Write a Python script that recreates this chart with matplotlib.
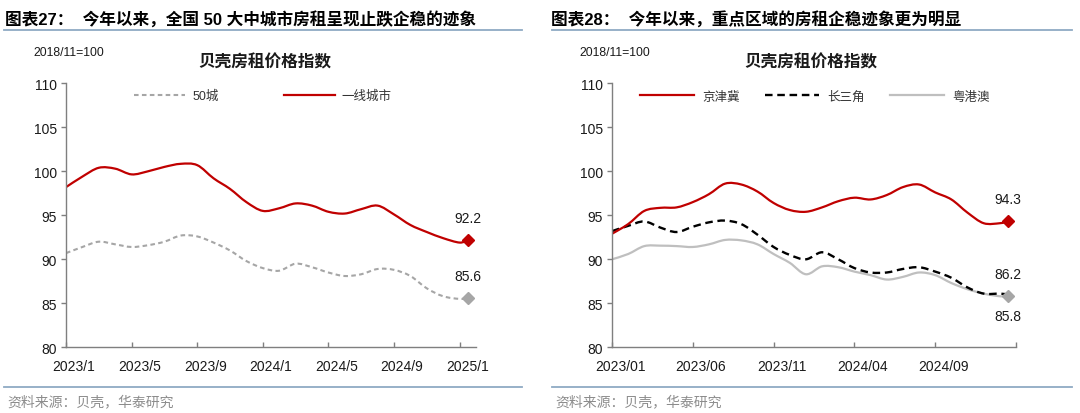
import matplotlib
matplotlib.use('Agg')
import matplotlib.pyplot as plt
import numpy as np
from matplotlib.path import Path
from matplotlib.patches import PathPatch
from matplotlib.lines import Line2D
from matplotlib.transforms import ScaledTranslation

plt.rcParams['font.family'] = ['Liberation Sans', 'Noto Sans CJK SC', 'DejaVu Sans']

# months since 2023/1 (last reading is mid-January 2025)
month_pos = list(range(25)) + [24.5]

# chart 27
city50 = [90.7, 91.4, 92.0, 91.7, 91.4, 91.6, 92.0, 92.7, 92.6, 91.9, 91.0, 89.8, 89.0,
          88.7, 89.5, 89.1, 88.5, 88.1, 88.3, 88.9, 88.8, 88.1, 86.7, 85.8, 85.5, 85.6]
tier1 = [98.2, 99.4, 100.4, 100.3, 99.65, 100.0, 100.5, 100.85, 100.7, 99.2, 98.0, 96.5, 95.5,
         95.8, 96.35, 96.1, 95.4, 95.2, 95.7, 96.1, 95.1, 93.9, 93.1, 92.4, 91.9, 92.2]
ticks27 = [0, 4, 8, 12, 16, 20, 24]
labels27 = ['2023/1', '2023/5', '2023/9', '2024/1', '2024/5', '2024/9', '2025/1']

# chart 28
jjj = [92.9, 94.0, 95.5, 95.85, 95.9, 96.5, 97.4, 98.6, 98.5, 97.7, 96.4, 95.6, 95.4,
       95.9, 96.6, 97.0, 96.8, 97.3, 98.2, 98.5, 97.6, 96.8, 95.3, 94.1, 94.1, 94.3]
csj = [93.2, 93.8, 94.3, 93.6, 93.1, 93.7, 94.2, 94.4, 94.0, 92.8, 91.4, 90.5, 90.0,
       90.8, 90.0, 89.0, 88.5, 88.5, 88.9, 89.1, 88.6, 87.9, 86.8, 86.1, 86.1, 86.0]
gba = [90.0, 90.6, 91.5, 91.55, 91.5, 91.4, 91.7, 92.2, 92.15, 91.7, 90.6, 89.6, 88.3,
       89.2, 89.1, 88.6, 88.2, 87.7, 88.0, 88.5, 88.2, 87.3, 86.6, 86.1, 85.8, 85.8]
ticks28 = [0, 5, 10, 15, 20, 25]
labels28 = ['2023/01', '2023/06', '2023/11', '2024/04', '2024/09', '']

W, H = 1080, 414
RED = '#C00000'
GREY = '#A6A6A6'
LGREY = '#BFBFBF'
RULE = '#8FAAC4'
CJK = ['Noto Sans CJK SC', 'DejaVu Sans']


def fx(px):
    return px / W


def fy(py):
    return 1 - py / H


def smooth(ax, x, y, **kw):
    # excel style smoothed line (catmull-rom as bezier)
    pts = np.column_stack([x, y]).astype(float)
    n = len(pts)
    verts = [pts[0]]
    codes = [Path.MOVETO]
    for i in range(n - 1):
        p0 = pts[i - 1] if i > 0 else pts[i]
        p3 = pts[i + 2] if i + 2 < n else pts[i + 1]
        c1 = pts[i] + (pts[i + 1] - p0) / 6
        c2 = pts[i + 1] - (p3 - pts[i]) / 6
        verts += [c1, c2, pts[i + 1]]
        codes += [Path.CURVE4] * 3
    ax.add_patch(PathPatch(Path(verts, codes), fill=False, capstyle='butt', **kw))


def style_axes(ax, ticks, labels):
    ax.set_xlim(0, 25)
    ax.set_ylim(80, 110)
    ax.set_yticks(range(80, 111, 5))
    ax.set_xticks(ticks)
    ax.set_xticklabels(labels)
    for s in ['top', 'right']:
        ax.spines[s].set_visible(False)
    for s in ['left', 'bottom']:
        ax.spines[s].set_color('#7F7F7F')
        ax.spines[s].set_linewidth(1)
    ax.tick_params(axis='y', direction='out', length=3.5, width=1, color='#7F7F7F',
                   labelsize=10, pad=3, labelcolor='#1A1A1A')
    ax.tick_params(axis='x', direction='in', length=3.5, width=1, color='#7F7F7F',
                   labelsize=10, pad=8.5, labelcolor='#1A1A1A')
    off = ScaledTranslation(8 / 100, 0, ax.figure.dpi_scale_trans)
    for lab in ax.get_xticklabels():
        lab.set_transform(lab.get_transform() + off)


fig = plt.figure(figsize=(10.8, 4.14), dpi=100)

ax1 = fig.add_axes([fx(66), fy(348.3), fx(476) - fx(66), fy(84.3) - fy(348.3)])
ax2 = fig.add_axes([fx(612), fy(348.3), fx(1016) - fx(612), fy(84.3) - fy(348.3)])
style_axes(ax1, ticks27, labels27)
style_axes(ax2, ticks28, labels28)

# chart 27 lines
smooth(ax1, month_pos, city50, edgecolor=GREY, linewidth=1.5, linestyle=(0, (2.2, 1.6)))
smooth(ax1, month_pos, tier1, edgecolor=RED, linewidth=1.6)
ax1.plot(month_pos[-1], tier1[-1], 'D', color=RED, markersize=6)
ax1.plot(month_pos[-1], city50[-1], 'D', color=GREY, markersize=6)
ax1.annotate('%.1f' % tier1[-1], (month_pos[-1], tier1[-1]), xytext=(0, 16),
             textcoords='offset points', ha='center', va='center', fontsize=10, color='#1A1A1A')
ax1.annotate('%.1f' % city50[-1], (month_pos[-1], city50[-1]), xytext=(0, 16),
             textcoords='offset points', ha='center', va='center', fontsize=10, color='#1A1A1A')

# chart 28 lines
smooth(ax2, month_pos, gba, edgecolor=LGREY, linewidth=1.6)
smooth(ax2, month_pos, csj, edgecolor='black', linewidth=1.7, linestyle=(0, (3.2, 2.0)))
smooth(ax2, month_pos, jjj, edgecolor=RED, linewidth=1.6)
ax2.plot(month_pos[-1], jjj[-1], 'D', color=RED, markersize=6)
ax2.plot(month_pos[-1], gba[-1], 'D', color=GREY, markersize=6)
ax2.annotate('%.1f' % jjj[-1], (month_pos[-1], jjj[-1]), xytext=(0, 16),
             textcoords='offset points', ha='center', va='center', fontsize=10, color='#1A1A1A')
ax2.annotate('86.2', (month_pos[-1], gba[-1]), xytext=(0, 16),
             textcoords='offset points', ha='center', va='center', fontsize=10, color='#1A1A1A')
ax2.annotate('%.1f' % gba[-1], (month_pos[-1], gba[-1]), xytext=(0, -14),
             textcoords='offset points', ha='center', va='center', fontsize=10, color='#1A1A1A')

# legends
h50 = Line2D([], [], color=GREY, linewidth=1.5, linestyle=(0, (2.2, 1.6)))
h1 = Line2D([], [], color=RED, linewidth=1.6)
fig.legend([h50, h1], ['50城', '一线城市'], ncol=2, loc='center left',
           bbox_to_anchor=(fx(134), fy(97)), bbox_transform=fig.transFigure,
           frameon=False, borderpad=0, borderaxespad=0, handlelength=4.1,
           handletextpad=0.55, columnspacing=5.2, prop={'size': 9, 'family': ['Liberation Sans', 'Noto Sans CJK SC']},
           labelcolor='#333333')
hj = Line2D([], [], color=RED, linewidth=1.6)
hc = Line2D([], [], color='black', linewidth=1.7, linestyle=(0, (3.2, 2.0)))
hg = Line2D([], [], color=LGREY, linewidth=1.6)
fig.legend([hj, hc, hg], ['京津冀', '长三角', '粤港澳'], ncol=3, loc='center left',
           bbox_to_anchor=(fx(640), fy(97)), bbox_transform=fig.transFigure,
           frameon=False, borderpad=0, borderaxespad=0, handlelength=4.3,
           handletextpad=0.7, columnspacing=2.0, prop={'size': 9, 'family': CJK},
           labelcolor='#333333')

# headers and footers
panels = [(5, 4, 522, '图表27：  今年以来，全国 50 大中城市房租呈现止跌企稳的迹象', 265),
          (551, 552, 1072, '图表28：  今年以来，重点区域的房租企稳迹象更为明显', 811)]
for tx, lx0, lx1, title, cx in panels:
    fig.text(fx(tx), fy(20), title, fontsize=12, fontweight='bold', ha='left', va='center',
             color='black')
    fig.add_artist(Line2D([fx(lx0), fx(lx1)], [fy(31), fy(31)], color=RULE, linewidth=1.3))
    fig.add_artist(Line2D([fx(lx0), fx(lx1)], [fy(388), fy(388)], color=RULE, linewidth=1.3))
    fig.text(fx(tx + 28), fy(53), '2018/11=100', fontsize=8.8, ha='left', va='center',
             color='#1A1A1A')
    fig.text(fx(cx), fy(62), '贝壳房租价格指数', fontsize=12, fontweight='bold', ha='center',
             va='center', color='#1A1A1A', family=CJK)
    fig.text(fx(lx0 + 3), fy(402), '资料来源：贝壳，华泰研究', fontsize=10, ha='left', va='center',
             color='#8C8C8C', family=CJK)

fig.savefig('out.png', dpi=100)
